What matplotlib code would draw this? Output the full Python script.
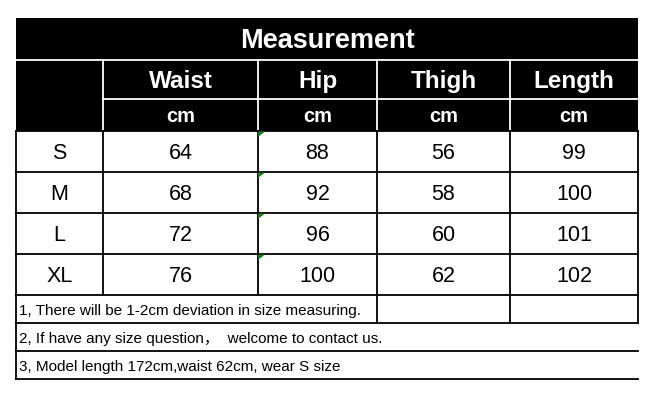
import matplotlib.pyplot as plt
from matplotlib.patches import Rectangle, Polygon

# ---------------- data ----------------
title = "Measurement"
columns = ["Waist", "Hip", "Thigh", "Length"]
units = ["cm", "cm", "cm", "cm"]
sizes = ["S", "M", "L", "XL"]
waist = [64, 68, 72, 76]
hip = [88, 92, 96, 100]
thigh = [56, 58, 60, 62]
length = [99, 100, 101, 102]
notes = [
    "1, There will be 1-2cm deviation in size measuring.",
    "2, If have any size question，  welcome to contact us.",
    "3, Model length 172cm,waist 62cm, wear S size",
]

# ---------------- layout (pixels) ----------------
W, H = 658, 400
col_x = [16, 103, 258, 377, 510, 638]
row_y = [18, 60, 99, 131, 172, 213, 254, 295, 323, 351, 379]
FONT = ["Liberation Sans", "Noto Sans CJK SC", "DejaVu Sans"]
LW = 1.3

fig = plt.figure(figsize=(W / 100, H / 100), dpi=100)
ax = fig.add_axes([0, 0, 1, 1])
ax.set_xlim(0, W)
ax.set_ylim(H, 0)
ax.axis("off")

x0, x1 = col_x[0], col_x[-1]

# black header block
ax.add_patch(Rectangle((x0, row_y[0]), x1 - x0, row_y[3] - row_y[0], color="black", lw=0))
ax.plot([x0, x1], [row_y[1], row_y[1]], color="white", lw=LW)
ax.plot([col_x[1], x1], [row_y[2], row_y[2]], color="white", lw=LW)
for cx in col_x[1:-1]:
    ax.plot([cx, cx], [row_y[1], row_y[3]], color="white", lw=LW)

ax.text((x0 + x1) / 2, (row_y[0] + row_y[1]) / 2 + 1.5, title, color="white",
        fontsize=19.5, fontweight="bold", family=FONT, ha="center", va="center")

centers = [(col_x[i] + col_x[i + 1]) / 2 for i in range(len(col_x) - 1)]
for i, (name, unit) in enumerate(zip(columns, units)):
    cx = centers[i + 1]
    ax.text(cx, (row_y[1] + row_y[2]) / 2 + 2, name, color="white", fontsize=17.5,
            fontweight="bold", family=FONT, ha="center", va="center")
    ax.text(cx, (row_y[2] + row_y[3]) / 2 + 2, unit, color="white", fontsize=14.5,
            fontweight="bold", family=FONT, ha="center", va="center")

# data rows
table = list(zip(sizes, waist, hip, thigh, length))
for r, row in enumerate(table):
    ya, yb = row_y[3 + r], row_y[4 + r]
    for c, val in enumerate(row):
        ax.text(centers[c], (ya + yb) / 2 + 2, str(val), color="black", fontsize=15.5,
                family=FONT, ha="center", va="center")
    # small green marker in the Hip cell corner
    ax.add_patch(Polygon([[col_x[2], ya + 0.5], [col_x[2] + 7, ya + 0.5], [col_x[2], ya + 6]],
                         closed=True, color="#1e7b1e", lw=0, zorder=3))

# grid lines for data rows
for y in row_y[3:8]:
    ax.plot([x0, x1], [y, y], color="black", lw=LW)
for cx in col_x:
    ax.plot([cx, cx], [row_y[3], row_y[7]], color="black", lw=LW)

# notes
for y in row_y[8:]:
    ax.plot([x0, x1], [y, y], color="black", lw=LW)
ax.plot([x0, x0], [row_y[7], row_y[-1]], color="black", lw=LW)
for cx in col_x[3:]:
    ax.plot([cx, cx], [row_y[7], row_y[8]], color="black", lw=LW)
for i, note in enumerate(notes):
    ax.text(x0 + 3, (row_y[7 + i] + row_y[8 + i]) / 2 + 1.5, note, color="black",
            fontsize=11, family=FONT, ha="left", va="center")

fig.savefig("out.png", dpi=100)
